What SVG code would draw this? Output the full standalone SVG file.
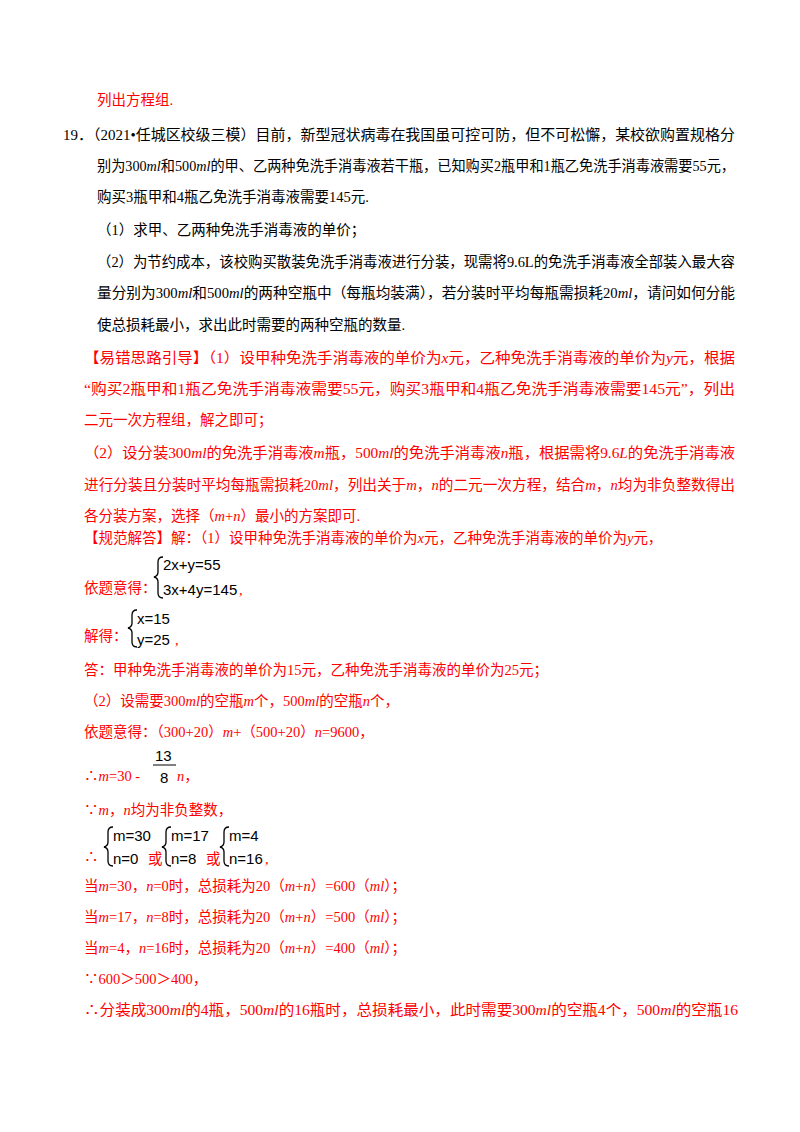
<svg xmlns="http://www.w3.org/2000/svg" width="800" height="1132" viewBox="0 0 800 1132">
<style>
text{font-family:"Liberation Serif","Noto Sans CJK SC",serif;font-size:14.5px;fill:#000}
.r{fill:#ff0000}
.i{font-style:italic}
.e{font-family:"Liberation Sans","DejaVu Sans",sans-serif;font-size:15px;fill:#000}
.b{fill:none;stroke:#000;stroke-width:1.3}
</style>
<rect width="800" height="1132" fill="#fff"/>
<g id="problem">
<text class="r" x="97" y="105">列出方程组.</text>
<text x="63" y="140" textLength="672" lengthAdjust="spacingAndGlyphs">19．（2021•任城区校级三模）目前，新型冠状病毒在我国虽可控可防，但不可松懈，某校欲购置规格分</text>
<text x="97" y="171" textLength="638" lengthAdjust="spacingAndGlyphs">别为300<tspan class="i">ml</tspan>和500<tspan class="i">ml</tspan>的甲、乙两种免洗手消毒液若干瓶，已知购买2瓶甲和1瓶乙免洗手消毒液需要55元，</text>
<text x="97" y="202">购买3瓶甲和4瓶乙免洗手消毒液需要145元.</text>
<text x="97" y="235">（1）求甲、乙两种免洗手消毒液的单价；</text>
<text x="97" y="267" textLength="638" lengthAdjust="spacingAndGlyphs">（2）为节约成本，该校购买散装免洗手消毒液进行分装，现需将9.6L的免洗手消毒液全部装入最大容</text>
<text x="97" y="298" textLength="638" lengthAdjust="spacingAndGlyphs">量分别为300<tspan class="i">ml</tspan>和500<tspan class="i">ml</tspan>的两种空瓶中（每瓶均装满），若分装时平均每瓶需损耗20<tspan class="i">ml</tspan>，请问如何分能</text>
<text x="97" y="330">使总损耗最小，求出此时需要的两种空瓶的数量.</text>
</g>
<g id="hint">
<text class="r" x="84" y="363" textLength="651" lengthAdjust="spacingAndGlyphs">【易错思路引导】（1）设甲种免洗手消毒液的单价为<tspan class="i">x</tspan>元，乙种免洗手消毒液的单价为<tspan class="i">y</tspan>元，根据</text>
<text class="r" x="84" y="394" textLength="651" lengthAdjust="spacingAndGlyphs">“购买2瓶甲和1瓶乙免洗手消毒液需要55元，购买3瓶甲和4瓶乙免洗手消毒液需要145元”，列出</text>
<text class="r" x="84" y="425">二元一次方程组，解之即可；</text>
<text class="r" x="84" y="458" textLength="651" lengthAdjust="spacingAndGlyphs">（2）设分装300<tspan class="i">ml</tspan>的免洗手消毒液<tspan class="i">m</tspan>瓶，500<tspan class="i">ml</tspan>的免洗手消毒液<tspan class="i">n</tspan>瓶，根据需将9.6<tspan class="i">L</tspan>的免洗手消毒液</text>
<text class="r" x="84" y="490" textLength="651" lengthAdjust="spacingAndGlyphs">进行分装且分装时平均每瓶需损耗20<tspan class="i">ml</tspan>，列出关于<tspan class="i">m</tspan>，<tspan class="i">n</tspan>的二元一次方程，结合<tspan class="i">m</tspan>，<tspan class="i">n</tspan>均为非负整数得出</text>
<text class="r" x="84" y="521">各分装方案，选择（<tspan class="i">m</tspan>+<tspan class="i">n</tspan>）最小的方案即可.</text>
</g>
<g id="solution">
<text class="r" x="84" y="543">【规范解答】解：（1）设甲种免洗手消毒液的单价为<tspan class="i">x</tspan>元，乙种免洗手消毒液的单价为<tspan class="i">y</tspan>元，</text>
<text class="r" x="84" y="593">依题意得：</text>
<path class="b" d="M163 557 Q158 557 158 562 L158 572 Q158 576 154 577 Q158 578 158 582 L158 593 Q158 598 163 598"/>
<text class="e" x="163" y="570">2x+y=55</text>
<text class="e" x="163" y="595">3x+4y=145</text><text class="r" x="239" y="595">,</text>
<text class="r" x="84" y="641">解得：</text>
<path class="b" d="M137 610 Q132 610 132 615 L132 623 Q132 627 128 628 Q132 629 132 633 L132 642 Q132 647 137 647"/>
<text class="e" x="137" y="624">x=15</text>
<text class="e" x="137" y="645">y=25</text><text class="r" x="175" y="645">,</text>
<text class="r" x="84" y="675">答：甲种免洗手消毒液的单价为15元，乙种免洗手消毒液的单价为25元；</text>
<text class="r" x="84" y="706">（2）设需要300<tspan class="i">ml</tspan>的空瓶<tspan class="i">m</tspan>个，500<tspan class="i">ml</tspan>的空瓶<tspan class="i">n</tspan>个，</text>
<text class="r" x="84" y="737">依题意得：（300+20）<tspan class="i">m</tspan>+（500+20）<tspan class="i">n</tspan>=9600，</text>
<text class="r" x="84" y="781">∴<tspan class="i">m</tspan>=30 -</text>
<text class="e" x="155" y="761">13</text>
<line x1="153" y1="765" x2="176" y2="765" stroke="#000" stroke-width="1"/>
<text class="e" x="160" y="783">8</text>
<text class="r" x="177" y="781"><tspan class="i">n</tspan>，</text>
<text class="r" x="84" y="815">∵<tspan class="i">m</tspan>，<tspan class="i">n</tspan>均为非负整数，</text>
<text class="r" x="84" y="862">∴</text>
<path class="b" d="M113 827 Q108 827 108 832 L108 842 Q108 846 104 847 Q108 848 108 852 L108 861 Q108 866 113 866"/>
<text class="e" x="113" y="841">m=30</text>
<text class="e" x="113" y="864">n=0</text>
<text class="r" x="148" y="864">或</text>
<path class="b" d="M171 827 Q166 827 166 832 L166 842 Q166 846 162 847 Q166 848 166 852 L166 861 Q166 866 171 866"/>
<text class="e" x="171" y="841">m=17</text>
<text class="e" x="171" y="864">n=8</text>
<text class="r" x="206" y="864">或</text>
<path class="b" d="M229 827 Q224 827 224 832 L224 842 Q224 846 220 847 Q224 848 224 852 L224 861 Q224 866 229 866"/>
<text class="e" x="229" y="841">m=4</text>
<text class="e" x="229" y="864">n=16</text><text class="r" x="265" y="864">,</text>
<text class="r" x="84" y="891">当<tspan class="i">m</tspan>=30，<tspan class="i">n</tspan>=0时，总损耗为20（<tspan class="i">m</tspan>+<tspan class="i">n</tspan>）=600（<tspan class="i">ml</tspan>）；</text>
<text class="r" x="84" y="922">当<tspan class="i">m</tspan>=17，<tspan class="i">n</tspan>=8时，总损耗为20（<tspan class="i">m</tspan>+<tspan class="i">n</tspan>）=500（<tspan class="i">ml</tspan>）；</text>
<text class="r" x="84" y="953">当<tspan class="i">m</tspan>=4，<tspan class="i">n</tspan>=16时，总损耗为20（<tspan class="i">m</tspan>+<tspan class="i">n</tspan>）=400（<tspan class="i">ml</tspan>）；</text>
<text class="r" x="84" y="984">∵600＞500＞400，</text>
<text class="r" x="84" y="1015" textLength="654" lengthAdjust="spacingAndGlyphs">∴分装成300<tspan class="i">ml</tspan>的4瓶，500<tspan class="i">ml</tspan>的16瓶时，总损耗最小，此时需要300<tspan class="i">ml</tspan>的空瓶4个，500<tspan class="i">ml</tspan>的空瓶16</text>
</g>
</svg>
